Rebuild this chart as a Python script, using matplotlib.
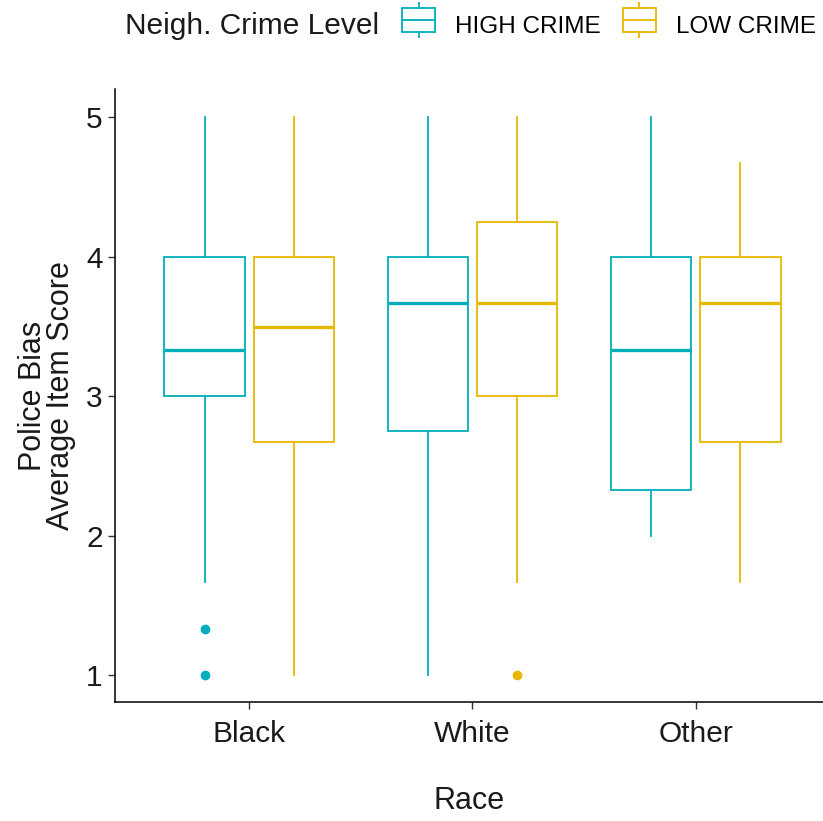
import matplotlib
matplotlib.use("Agg")
import matplotlib.pyplot as plt
from matplotlib.legend_handler import HandlerBase
from matplotlib.patches import Rectangle, Patch
from matplotlib.lines import Line2D

plt.rcParams['font.family'] = ['Liberation Sans', 'DejaVu Sans']

races = ['Black', 'White', 'Other']
levels = ['HIGH CRIME', 'LOW CRIME']
colors = ['#00AFBB', '#E7B800']

# five-number summaries: [whislo, q1, med, q3, whishi]
high_stats = [[1.67, 3.0, 3.33, 4.0, 5.0],
              [1.0, 2.75, 3.67, 4.0, 5.0],
              [2.0, 2.33, 3.33, 4.0, 5.0]]
low_stats = [[1.0, 2.67, 3.5, 4.0, 5.0],
             [1.67, 3.0, 3.67, 4.25, 5.0],
             [1.67, 2.67, 3.67, 4.0, 4.67]]
high_out = [[1.33, 1.0], [], []]
low_out = [[], [1.0], []]


def to_bxp(stats, outs):
    res = []
    for s, o in zip(stats, outs):
        res.append(dict(whislo=s[0], q1=s[1], med=s[2], q3=s[3], whishi=s[4], fliers=o))
    return res


class BoxHandler(HandlerBase):
    def create_artists(self, legend, orig_handle, xd, yd, width, height, fontsize, trans):
        c = orig_handle.get_edgecolor()
        cx = xd + width / 2
        x0 = xd
        y0 = yd - height * 0.05
        h = height * 1.1
        rect = Rectangle((x0, y0), width, h,
                         facecolor='white', edgecolor=c, lw=1.3, transform=trans)
        med = Line2D([x0, x0 + width], [y0 + h / 2] * 2, color=c, lw=1.3, transform=trans)
        w1 = Line2D([cx, cx], [y0 + h, y0 + h * 1.22], color=c, lw=1.3, transform=trans)
        w2 = Line2D([cx, cx], [y0, y0 - h * 0.22], color=c, lw=1.3, transform=trans)
        return [rect, med, w1, w2]


fig = plt.figure(figsize=(8.23, 8.21), dpi=100)
ax = fig.add_axes([0.140, 0.145, 0.860, 0.746])

pos = list(range(1, len(races) + 1))
off = 0.2
bw = 0.36
for stats, outs, c, d in [(high_stats, high_out, colors[0], -off), (low_stats, low_out, colors[1], off)]:
    ax.bxp(to_bxp(stats, outs), positions=[p + d for p in pos], widths=bw,
           showcaps=False, patch_artist=True,
           boxprops=dict(facecolor='white', edgecolor=c, lw=1.3),
           whiskerprops=dict(color=c, lw=1.3),
           medianprops=dict(color=c, lw=2.4),
           flierprops=dict(marker='o', markerfacecolor=c, markeredgecolor=c, markersize=6))

ax.set_xlim(0.4, 3.57)
ax.set_ylim(0.81, 5.2)
ax.set_xticks(pos)
ax.set_xticklabels(races)
ax.set_yticks([1, 2, 3, 4, 5])
ax.tick_params(labelsize=21.5, length=5, width=1, color='#333333', labelcolor='#1a1a1a', pad=4)
ax.tick_params(axis='x', pad=8)
for s in ['top', 'right']:
    ax.spines[s].set_visible(False)
for s in ['left', 'bottom']:
    ax.spines[s].set_linewidth(1.1)
ax.set_xlabel('Race', fontsize=22, labelpad=27, color='#1a1a1a')
ax.set_ylabel('Police Bias\nAverage Item Score', fontsize=22, labelpad=7, color='#1a1a1a', linespacing=0.95)

fig.text(0.152, 0.968, 'Neigh. Crime Level', fontsize=21.5, va='center', ha='left', color='#1a1a1a')
handles = [Patch(facecolor='white', edgecolor=c) for c in colors]
fig.legend(handles, levels, handler_map={Patch: BoxHandler()}, loc='center left',
           bbox_to_anchor=(0.4885, 0.968), ncol=2, frameon=False, fontsize=17.5,
           handlelength=1.36, handleheight=1.0, handletextpad=0.82, columnspacing=0.9,
           borderaxespad=0, borderpad=0)

fig.savefig('out.png', dpi=100)
